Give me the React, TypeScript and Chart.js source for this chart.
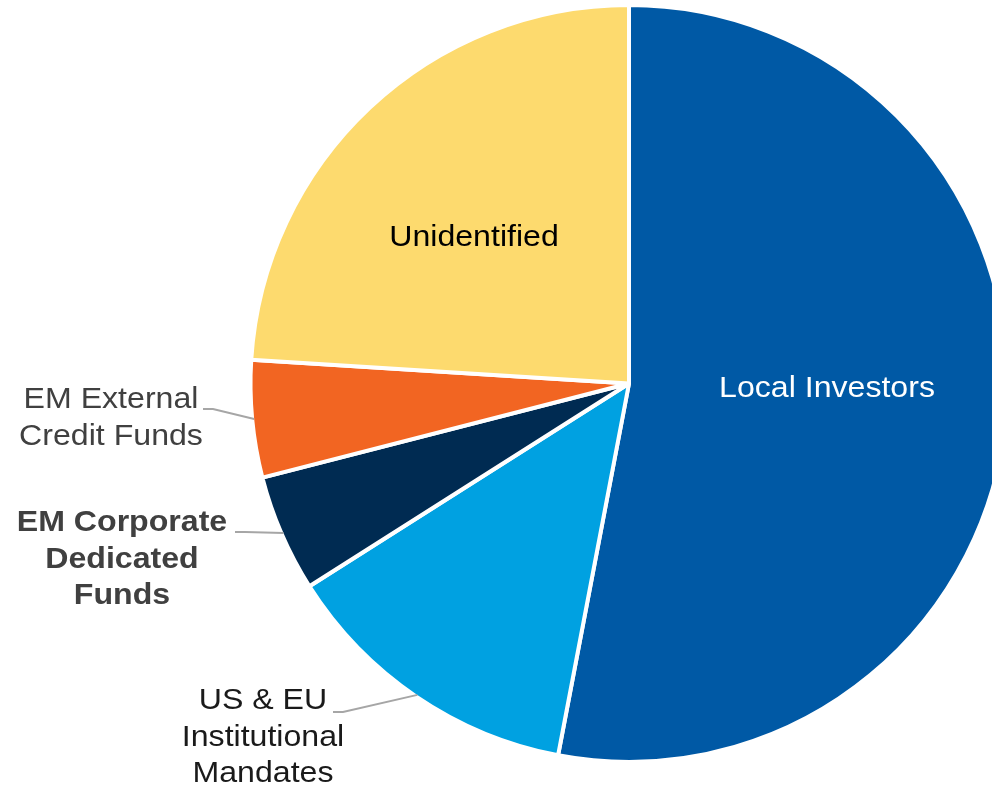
import React, { useEffect, useRef } from "react";
import { Chart, registerables } from "chart.js";

Chart.register(...registerables);

const categories = [
  "Local Investors",
  "US & EU Institutional Mandates",
  "EM Corporate Dedicated Funds",
  "EM External Credit Funds",
  "Unidentified",
];
const shares = [53, 13, 5, 5, 24];
const sliceColors = ["#0059A5", "#00A1E1", "#002B52", "#F26522", "#FDDA6E"];

// label layout (style only): lines, colour, weight, anchor in page px, optional leader
type LabelCfg = {
  lines: string[];
  color: string;
  bold: boolean;
  x: number;
  y: number;
  leader?: { sx: number; sy: number; ex: number };
};
const labelLayout: LabelCfg[] = [
  { lines: ["Local Investors"], color: "#FFFFFF", bold: false, x: 827, y: 389 },
  {
    lines: ["US & EU", "Institutional", "Mandates"],
    color: "#1A1A1A",
    bold: false,
    x: 263,
    y: 701,
    leader: { sx: 333, sy: 712, ex: 343 },
  },
  {
    lines: ["EM Corporate", "Dedicated", "Funds"],
    color: "#404040",
    bold: true,
    x: 122,
    y: 523,
    leader: { sx: 235, sy: 532, ex: 245 },
  },
  {
    lines: ["EM External", "Credit Funds"],
    color: "#404040",
    bold: false,
    x: 111,
    y: 400,
    leader: { sx: 203, sy: 409, ex: 213 },
  },
  { lines: ["Unidentified"], color: "#000000", bold: false, x: 474, y: 238 },
];

const FONT = "'Liberation Sans', Arial, sans-serif";
const FONT_SIZE = 30;
const TEXT_STRETCH = 1.07;
const LINE_H = 36.5;

const labelPlugin = {
  id: "pieLabels",
  afterDatasetsDraw(chart: any) {
    const ctx = chart.ctx as CanvasRenderingContext2D;
    const meta = chart.getDatasetMeta(0);
    ctx.save();
    labelLayout.forEach((cfg, i) => {
      const arc = meta.data[i] as any;
      if (!arc) return;
      if (cfg.leader) {
        const { x, y, startAngle, endAngle, outerRadius } = arc.getProps(
          ["x", "y", "startAngle", "endAngle", "outerRadius"],
          true
        );
        const mid = (startAngle + endAngle) / 2;
        const r = outerRadius - 2;
        const px = x + Math.cos(mid) * r;
        const py = y + Math.sin(mid) * r;
        ctx.beginPath();
        ctx.strokeStyle = "#A6A6A6";
        ctx.lineWidth = 2;
        ctx.moveTo(cfg.leader.sx, cfg.leader.sy);
        ctx.lineTo(cfg.leader.ex, cfg.leader.sy);
        ctx.lineTo(px, py);
        ctx.stroke();
      }
      ctx.fillStyle = cfg.color;
      ctx.font = `${cfg.bold ? "bold " : ""}${FONT_SIZE}px ${FONT}`;
      ctx.textAlign = "center";
      ctx.textBaseline = "middle";
      cfg.lines.forEach((line, k) => {
        ctx.save();
        ctx.translate(cfg.x, cfg.y + k * LINE_H);
        ctx.scale(TEXT_STRETCH, 1);
        ctx.fillText(line, 0, 0);
        ctx.restore();
      });
    });
    ctx.restore();
  },
};

export default function App() {
  const ref = useRef<HTMLCanvasElement | null>(null);
  useEffect(() => {
    if (!ref.current) return;
    const chart = new Chart(ref.current, {
      type: "pie",
      data: {
        labels: categories,
        datasets: [
          {
            data: shares,
            backgroundColor: sliceColors,
            borderColor: "#FFFFFF",
            borderWidth: 4,
            hoverOffset: 0,
          },
        ],
      },
      options: {
        animation: false,
        responsive: false,
        devicePixelRatio: 1,
        radius: 378.5,
        layout: { padding: { top: 0, left: 0, right: 0, bottom: 20 } },
        plugins: {
          legend: { display: false },
          tooltip: { enabled: false },
        },
      } as any,
      plugins: [labelPlugin],
    });
    return () => chart.destroy();
  }, []);
  return (
    <div
      style={{
        position: "fixed",
        left: 0,
        top: 0,
        width: 992,
        height: 787,
        overflow: "hidden",
        background: "#FFFFFF",
      }}
    >
      <canvas
        ref={ref}
        width={1258}
        height={787}
        style={{ display: "block", width: 1258, height: 787 }}
      />
    </div>
  );
}
